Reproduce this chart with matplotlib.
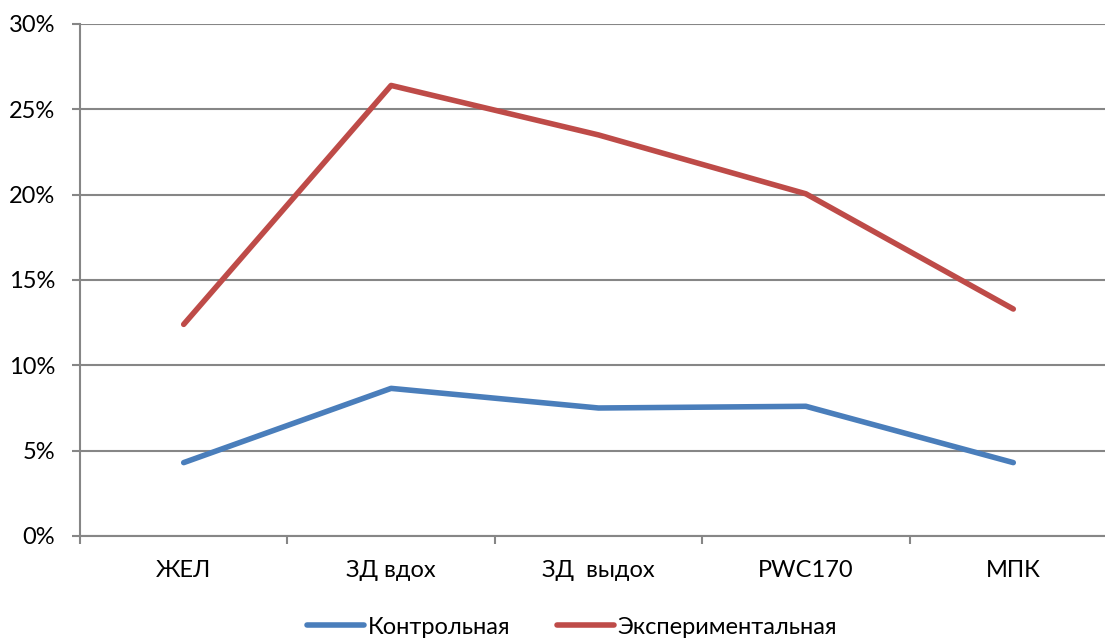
import matplotlib
matplotlib.use("Agg")
import matplotlib.pyplot as plt
from matplotlib.ticker import FixedLocator, PercentFormatter

categories = ["ЖЕЛ", "ЗД вдох", "ЗД  выдох", "PWC170", "МПК"]
control = [4.3, 8.65, 7.5, 7.6, 4.3]
experimental = [12.4, 26.4, 23.5, 20.05, 13.3]
series_names = ["Контрольная", "Экспериментальная"]
y_ticks = [0, 5, 10, 15, 20, 25, 30]

plt.rcParams['font.family'] = ['Lato', 'DejaVu Sans']

W, H = 1105, 639
fig = plt.figure(figsize=(W / 100, H / 100), dpi=100)
left, right, top, bottom = 80, 1117, 24, 536
ax = fig.add_axes([left / W, 1 - bottom / H, (right - left) / W, (bottom - top) / H])

grid_col = "#868686"
fs = 17
x = list(range(len(categories)))
ax.plot(x, control, color="#4A7EBB", lw=4, solid_capstyle="round", solid_joinstyle="round", label=series_names[0], zorder=3)
ax.plot(x, experimental, color="#BE4B48", lw=4, solid_capstyle="round", solid_joinstyle="round", label=series_names[1], zorder=3)

ax.set_xlim(-0.5, len(categories) - 0.5)
ax.set_ylim(0, 30)
ax.yaxis.set_major_locator(FixedLocator(y_ticks))
ax.yaxis.set_major_formatter(PercentFormatter(decimals=0))
ax.grid(axis="y", color=grid_col, lw=1.5, zorder=1)
ax.set_axisbelow(True)

ax.set_xticks([i - 0.5 for i in range(len(categories) + 1)])
ax.set_xticklabels([])
ax.set_xticks(x, minor=True)
ax.set_xticklabels(categories, minor=True)
ax.tick_params(axis="x", which="major", length=6, width=1.5, color=grid_col, direction="out")
ax.tick_params(axis="x", which="minor", length=0, pad=17, labelsize=fs)
ax.tick_params(axis="y", length=6, width=1.5, color=grid_col, labelsize=fs, pad=12)

for s in ["top", "right"]:
    ax.spines[s].set_visible(False)
for s in ["left", "bottom"]:
    ax.spines[s].set_color(grid_col)
    ax.spines[s].set_linewidth(1.5)

fig.legend(loc="center", bbox_to_anchor=(572 / W, 1 - 627 / H), ncol=2, frameon=False,
           fontsize=fs, handlelength=2.4, handletextpad=0.15, columnspacing=2.0)

fig.savefig("out.png", dpi=100)
